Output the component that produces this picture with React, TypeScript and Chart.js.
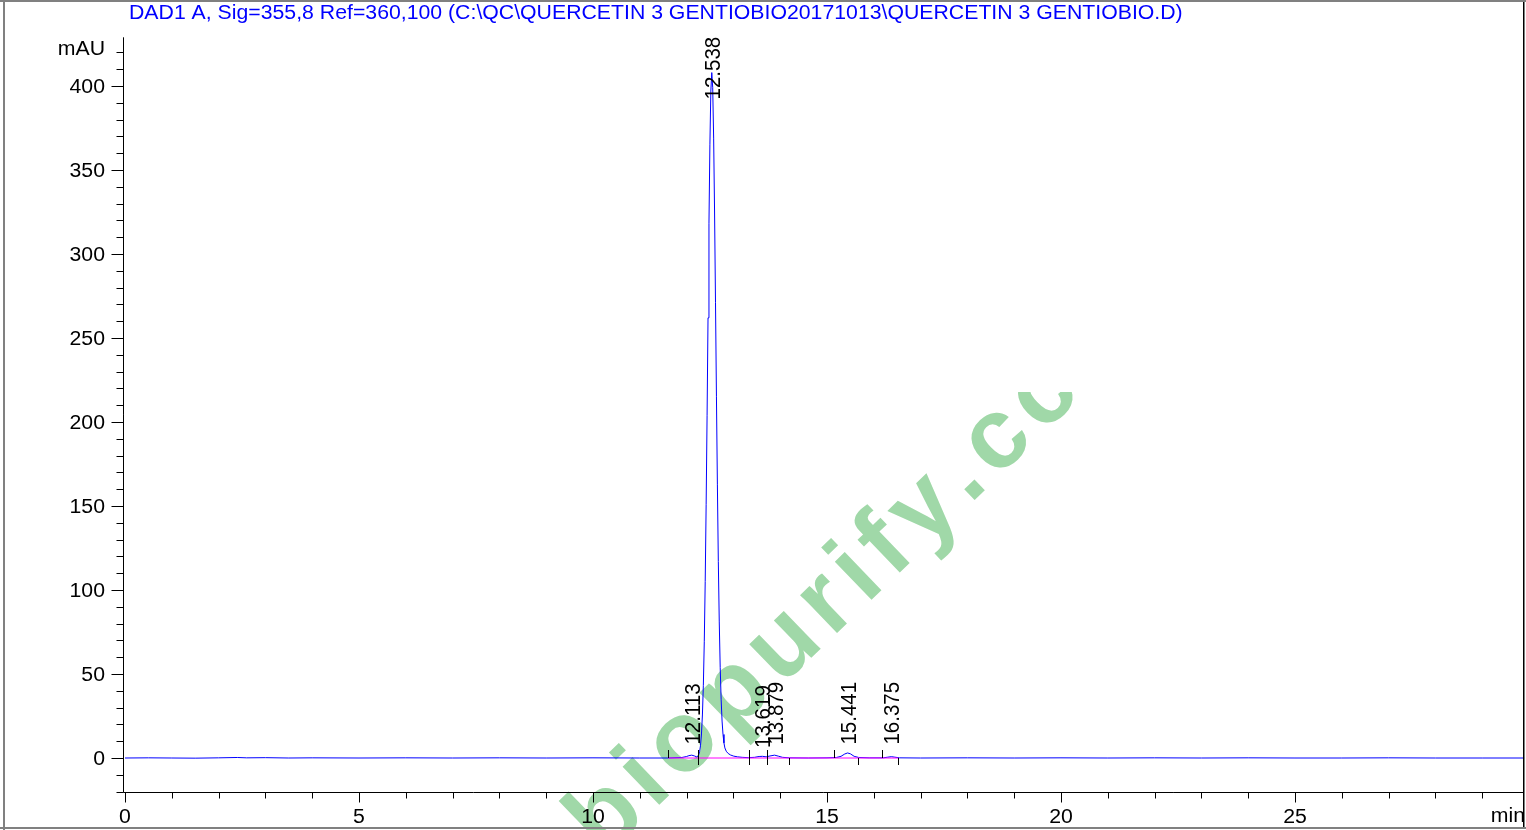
import React, { useEffect, useRef } from "react";
import { Chart, registerables } from "chart.js";

Chart.register(...registerables);

// ---------------- data ----------------
const TITLE =
  "DAD1 A, Sig=355,8 Ref=360,100 (C:\\QC\\QUERCETIN 3 GENTIOBIO20171013\\QUERCETIN 3 GENTIOBIO.D)";
const Y_UNIT = "mAU";
const X_UNIT = "min";
const X_TICK_LABELS = [0, 5, 10, 15, 20, 25];
const Y_TICK_LABELS = [0, 50, 100, 150, 200, 250, 300, 350, 400];
const X_MIN = 0;
const X_MAX = 29.9;
const Y_MIN = -20;
const Y_MAX = 429;

const TIMES = [
  0.0, 0.5, 1.0, 1.5, 2.0, 2.4, 2.6, 3.0, 3.5, 4.0, 5.0, 6.0, 7.0, 8.0, 9.0, 10.0, 11.0, 11.6,
  11.9, 12.0, 12.05, 12.11, 12.17, 12.22,
  12.238, 12.258, 12.278, 12.298, 12.318, 12.338, 12.358, 12.378, 12.398, 12.418, 12.438, 12.458,
  12.478, 12.498, 12.518, 12.538, 12.558, 12.578, 12.598, 12.618, 12.638, 12.658, 12.678, 12.698,
  12.718, 12.738, 12.758, 12.778, 12.798, 12.818, 12.848, 12.888, 12.938, 13.008, 13.088, 13.188,
  13.318,
  13.45, 13.55, 13.62, 13.7, 13.78, 13.88, 13.96, 14.05, 14.2, 14.6, 15.0, 15.2, 15.3, 15.38,
  15.44, 15.5, 15.58, 15.68, 15.9, 16.2, 16.3, 16.375, 16.45, 16.55, 17.0, 18.0, 19.0, 20.0,
  21.0, 22.0, 23.0, 24.0, 25.0, 26.0, 27.0, 28.0, 29.0, 29.9,
];
const SIGNAL = [
  0, 0.1, 0, -0.1, 0.1, 0.3, 0.1, 0.2, 0, 0.1, 0, 0.1, 0, 0.1, 0, 0.1, 0, 0,
  0.3, 0.9, 1.4, 1.7, 1.2, 0.6,
  0.9, 1.9, 3.8, 7.6, 14.3, 25.6, 43.3, 69.5, 105, 151, 204, 262,
  318, 365, 397, 408, 399, 369, 325, 271, 215, 163, 117, 81,
  54, 35, 22, 14, 9, 6, 4, 2.7, 1.8, 1.1, 0.7, 0.4,
  0.2,
  0.4, 0.9, 1.0, 0.7, 1.2, 1.7, 1.1, 0.4, 0.1, 0, 0.1, 0.3, 1.0, 2.4,
  3.0, 2.5, 1.0, 0.3, 0.1, 0.1, 0.5, 0.8, 0.5, 0.1, 0, 0.1, 0, 0.1,
  0, 0.1, 0, 0.1, 0, 0, 0.1, 0, 0, 0,
];

const PEAK_TIMES = [12.113, 12.538, 13.619, 13.879, 15.441, 16.375];
const PEAK_LABELS = ["12.113", "12.538", "13.619", "13.879", "15.441", "16.375"];
const PEAK_LABEL_LEVELS = [8, 392, 6, 8, 8, 8];

const BASELINE_TIMES = [11.61, 16.52];
const BASELINE_VALUES = [0, 0];
const MARK_STARTS = [11.61, 12.25, 13.33, 13.72, 15.16, 16.17];
const MARK_ENDS = [12.25, 13.33, 13.72, 14.19, 15.66, 16.52];

const WATERMARK = "biopurify.cc";

// ---------------- styles ----------------
const W = 1526;
const H = 830;
const FONT = '"Liberation Sans", Arial, sans-serif';
const FS = 19.5;
const SX = 1.09;
const LFS = 20.5;
const LSX = 1.1;

function drawText(
  ctx: CanvasRenderingContext2D,
  s: string,
  x: number,
  y: number,
  align: CanvasTextAlign,
  color = "#000"
) {
  ctx.save();
  ctx.translate(x, y);
  ctx.scale(SX, 1);
  ctx.font = `${FS}px ${FONT}`;
  ctx.fillStyle = color;
  ctx.textAlign = align;
  ctx.textBaseline = "alphabetic";
  ctx.fillText(s, 0, 0);
  ctx.restore();
}

const backgroundPlugin = {
  id: "bgwm",
  beforeDraw(chart: any) {
    const ctx: CanvasRenderingContext2D = chart.ctx;
    ctx.save();
    ctx.fillStyle = "#fff";
    ctx.fillRect(0, 0, W, H);
    // watermark
    ctx.beginPath();
    ctx.rect(0, 392, W, H - 392);
    ctx.clip();
    const F = 100;
    const spacing = 9;
    const ang = (-44 * Math.PI) / 180;
    ctx.font = `bold ${F}px ${FONT}`;
    const widths = WATERMARK.split("").map((c) => ctx.measureText(c).width);
    const idx = WATERMARK.indexOf(".");
    let pre = 0;
    for (let i = 0; i < idx; i++) pre += widths[i] + spacing;
    const px = pre + widths[idx] / 2;
    const py = -0.07 * F;
    const c = Math.cos(ang);
    const s = Math.sin(ang);
    const ax = 975;
    const ay = 490;
    ctx.translate(ax - (px * c - py * s), ay - (px * s + py * c));
    ctx.rotate(ang);
    ctx.fillStyle = "#a0d8a8";
    ctx.textBaseline = "alphabetic";
    ctx.textAlign = "left";
    let x = 0;
    WATERMARK.split("").forEach((ch, i) => {
      ctx.fillText(ch, x, 0);
      x += widths[i] + spacing;
    });
    ctx.restore();
  },
};

const axesPlugin = {
  id: "axes",
  afterDatasetsDraw(chart: any) {
    const ctx: CanvasRenderingContext2D = chart.ctx;
    const xs = chart.scales.x;
    const ys = chart.scales.y;
    const area = chart.chartArea;
    const axisX = Math.round(xs.getPixelForValue(0)) - 1.5;
    const axisY = Math.round(ys.getPixelForValue(Y_MIN)) + 0.5;
    ctx.save();
    ctx.strokeStyle = "#000";
    ctx.lineWidth = 1;
    // axes lines
    ctx.beginPath();
    ctx.moveTo(axisX, area.top);
    ctx.lineTo(axisX, axisY);
    ctx.lineTo(W - 2, axisY);
    ctx.stroke();
    // y ticks
    for (let v = Y_MIN; v <= Y_MAX - 5; v += 10) {
      const y = Math.round(ys.getPixelForValue(v)) + 0.5;
      const len = v % 50 === 0 ? 12 : 7;
      ctx.beginPath();
      ctx.moveTo(axisX - len, y);
      ctx.lineTo(axisX, y);
      ctx.stroke();
    }
    // x ticks
    for (let t = 0; t <= Math.floor(X_MAX); t += 1) {
      const x = Math.round(xs.getPixelForValue(t)) + 0.5;
      const len = t % 5 === 0 ? 10 : 6;
      ctx.beginPath();
      ctx.moveTo(x, axisY);
      ctx.lineTo(x, axisY + len);
      ctx.stroke();
    }
    // integration markers
    const y0 = Math.round(ys.getPixelForValue(0));
    MARK_STARTS.forEach((t) => {
      const x = Math.round(xs.getPixelForValue(t)) + 0.5;
      ctx.beginPath();
      ctx.moveTo(x, y0 - 8);
      ctx.lineTo(x, y0);
      ctx.stroke();
    });
    MARK_ENDS.forEach((t) => {
      const x = Math.round(xs.getPixelForValue(t)) + 0.5;
      ctx.beginPath();
      ctx.moveTo(x, y0);
      ctx.lineTo(x, y0 + 7);
      ctx.stroke();
    });
    ctx.restore();

    // tick labels
    Y_TICK_LABELS.forEach((v) => {
      drawText(ctx, String(v), 105, ys.getPixelForValue(v) + 6.9, "right");
    });
    drawText(ctx, Y_UNIT, 105, ys.getPixelForValue(420) + 2.5, "right");
    X_TICK_LABELS.forEach((t) => {
      drawText(ctx, String(t), xs.getPixelForValue(t), 823.3, "center");
    });
    drawText(ctx, X_UNIT, 1525, 821.7, "right");
    // title
    drawText(ctx, TITLE, 129, 19.3, "left", "#0000ff");

    // peak labels (rotated)
    PEAK_TIMES.forEach((t, i) => {
      const x = xs.getPixelForValue(t);
      const y = ys.getPixelForValue(PEAK_LABEL_LEVELS[i]);
      ctx.save();
      ctx.translate(x, y);
      ctx.scale(LSX, 1);
      ctx.rotate(-Math.PI / 2);
      ctx.font = `${LFS}px ${FONT}`;
      ctx.fillStyle = "#000";
      ctx.textAlign = "left";
      ctx.textBaseline = "alphabetic";
      ctx.fillText(PEAK_LABELS[i], 0, 0.358 * LFS);
      ctx.restore();
    });

    // frame
    ctx.save();
    ctx.fillStyle = "#808080";
    ctx.fillRect(3, 0, 2, H);
    ctx.fillRect(0, 0, W, 2);
    ctx.fillRect(0, 827, W, 2);
    ctx.fillStyle = "#000";
    ctx.fillRect(1523, 2, 1.5, 825);
    ctx.restore();
  },
};

export default function App() {
  const ref = useRef<HTMLCanvasElement | null>(null);
  useEffect(() => {
    if (!ref.current) return;
    const chart = new Chart(ref.current, {
      type: "line",
      data: {
        datasets: [
          {
            label: "baseline",
            data: BASELINE_TIMES.map((x, i) => ({ x, y: BASELINE_VALUES[i] })),
            borderColor: "#ff00ff",
            borderWidth: 1,
            pointRadius: 0,
            order: 0,
          },
          {
            label: "signal",
            data: TIMES.map((x, i) => ({ x, y: SIGNAL[i] })),
            borderColor: "#0000ff",
            borderWidth: 1,
            pointRadius: 0,
            tension: 0,
            order: 1,
          },
        ],
      },
      options: {
        responsive: false,
        animation: false,
        events: [],
        layout: { padding: { left: 125, right: W - 1524.3, top: 37.3, bottom: H - 791.6 } },
        scales: {
          x: { type: "linear", min: X_MIN, max: X_MAX, display: false },
          y: { type: "linear", min: Y_MIN, max: Y_MAX, display: false },
        },
        plugins: {
          legend: { display: false },
          tooltip: { enabled: false },
          title: { display: false },
        },
      },
      plugins: [backgroundPlugin, axesPlugin],
    });
    return () => chart.destroy();
  }, []);
  return (
    <div style={{ position: "fixed", left: 0, top: 0, width: W, height: H, overflow: "hidden" }}>
      <canvas ref={ref} width={W} height={H} style={{ display: "block", width: W, height: H }} />
    </div>
  );
}
